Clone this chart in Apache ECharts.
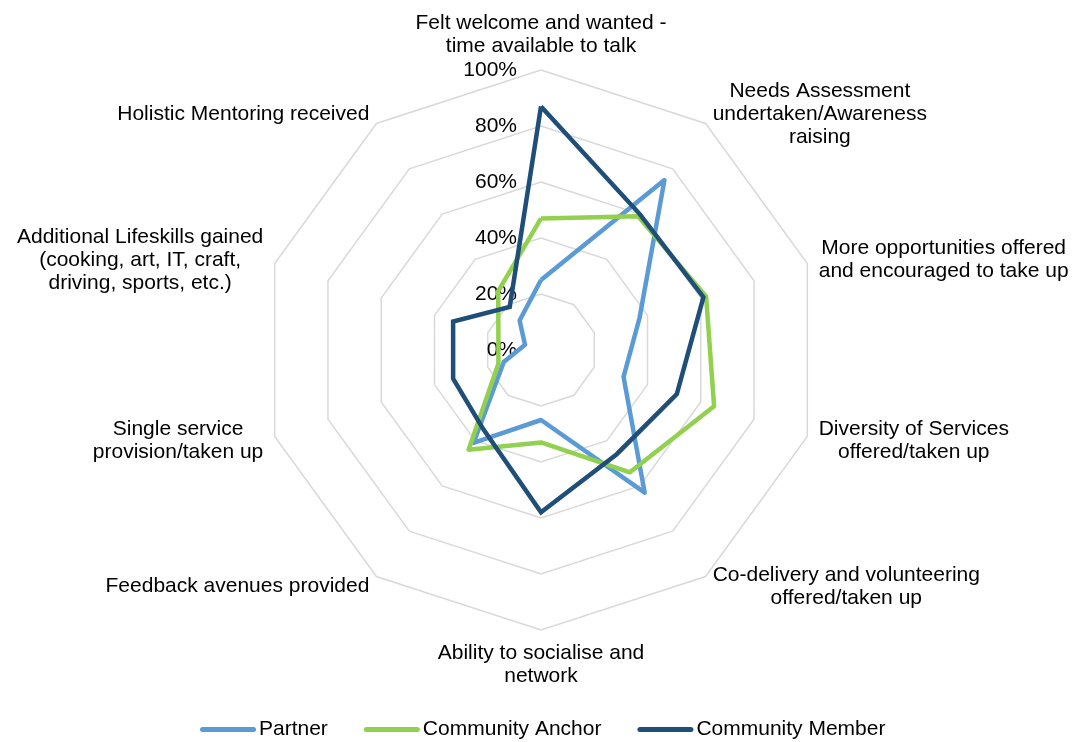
<!DOCTYPE html>
<html>
<head>
<meta charset="utf-8">
<script src="https://cdn.jsdelivr.net/npm/echarts@6/dist/echarts.min.js"></script>
<style>
html,body{margin:0;padding:0;background:#fff;}
#chart{width:1079px;height:742px;}
</style>
</head>
<body>
<div id="chart"></div>
<script>
// Categories in clockwise order starting from the top
const categories = [
  "Felt welcome and wanted -\ntime available to talk",
  "Needs Assessment\nundertaken/Awareness\nraising",
  "More opportunities offered\nand encouraged to take up",
  "Diversity of Services\noffered/taken up",
  "Co-delivery and volunteering\noffered/taken up",
  "Ability to socialise and\nnetwork",
  "Feedback avenues provided",
  "Single service\nprovision/taken up",
  "Additional Lifeskills gained\n(cooking, art, IT, craft,\ndriving, sports, etc.)",
  "Holistic Mentoring received"
];
const seriesNames = ["Partner", "Community Anchor", "Community Member"];
const partner = [25, 75, 37, 31, 63, 25, 41, 14, 6, 13];
const communityAnchor = [47, 59, 62, 65, 54, 33, 44, 16, 16, 26];
const communityMember = [87, 60, 61, 51, 46, 58, 35, 33, 33, 19];
const colors = ["#5B9BD5", "#92D050", "#1F4E79"];

const FONT = "'Liberation Sans', Arial, sans-serif";
// ECharts lays indicators out counter-clockwise; reorder to get clockwise
const order = [0];
for (let i = categories.length - 1; i >= 1; i--) order.push(i);
const reorder = arr => order.map(i => arr[i]);

const indicators = order.map((i, k) => {
  const ind = { name: categories[i], min: 0, max: 100 };
  if (k === 0) {
    ind.axisLabel = {
      show: true,
      formatter: '{value}%',
      color: '#000',
      fontSize: 21,
      fontFamily: FONT,
      margin: 24
    };
  }
  return ind;
});

const chart = echarts.init(document.getElementById('chart'), null, { renderer: 'canvas' });
chart.setOption({
  animation: false,
  backgroundColor: '#ffffff',
  color: colors,
  legend: {
    data: seriesNames,
    left: 195,
    top: 714,
    itemWidth: 56,
    itemHeight: 5,
    itemGap: 36,
    icon: 'path://M2.5,0 L53.5,0 A2.5,2.5 0 0 1 53.5,5 L2.5,5 A2.5,2.5 0 0 1 2.5,0 Z',
    textStyle: { color: '#000', fontSize: 21, fontFamily: FONT, padding: [0, 0, 0, -2] }
  },
  radar: {
    center: [541, 350],
    radius: 280,
    startAngle: 90,
    shape: 'polygon',
    splitNumber: 5,
    nameGap: 12,
    indicator: indicators,
    axisName: {
      color: '#000',
      fontSize: 21,
      fontFamily: FONT,
      lineHeight: 23,
      formatter: name => name.split('\n').map(l => '{c|' + l + '}').join('\n'),
      rich: {
        c: { align: 'center', color: '#000', fontSize: 21, fontFamily: FONT, lineHeight: 23 }
      }
    },
    axisLine: { show: false },
    axisTick: { show: false },
    axisLabel: { show: false },
    splitLine: { lineStyle: { color: '#D9D9D9', width: 1.5 } },
    splitArea: { show: false }
  },
  series: [{
    type: 'radar',
    symbol: 'none',
    data: [
      { name: seriesNames[0], value: reorder(partner), lineStyle: { color: colors[0], width: 4.5, join: 'round' }, itemStyle: { color: colors[0] } },
      { name: seriesNames[1], value: reorder(communityAnchor), lineStyle: { color: colors[1], width: 4.5, join: 'round' }, itemStyle: { color: colors[1] } },
      { name: seriesNames[2], value: reorder(communityMember), lineStyle: { color: colors[2], width: 4.5, join: 'miter' }, itemStyle: { color: colors[2] } }
    ]
  }]
});
</script>
</body>
</html>
